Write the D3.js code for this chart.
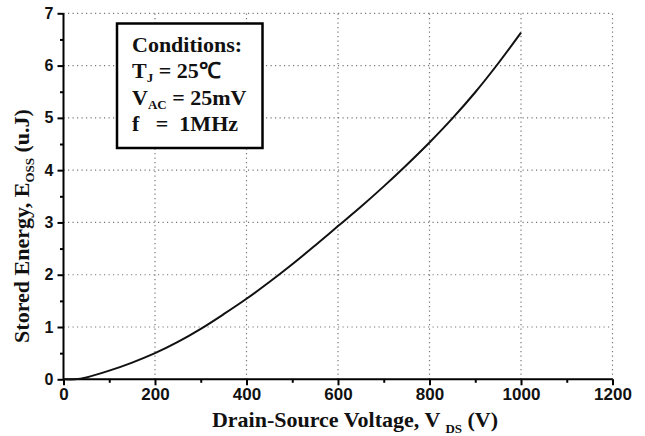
<!DOCTYPE html>
<html><head><meta charset="utf-8">
<script src="https://cdn.jsdelivr.net/npm/d3@7"></script>
<style>body{margin:0;background:#fff}svg{display:block}</style>
</head><body><svg id="c" width="645" height="436"></svg>
<script>
const voltage = [0, 25, 50, 100, 150, 200, 250, 300, 350, 400, 450, 500, 550, 600, 650, 700, 750, 800, 850, 900, 950, 1000];
const energy  = [0, 0, 0.035, 0.165, 0.32, 0.50, 0.715, 0.965, 1.245, 1.54, 1.86, 2.20, 2.56, 2.93, 3.30, 3.69, 4.10, 4.53, 4.99, 5.49, 6.04, 6.63];
const xTicks = [0, 200, 400, 600, 800, 1000, 1200];
const yTicks = [0, 1, 2, 3, 4, 5, 6, 7];
const conditions = ["Conditions:", "T|J| = 25℃", "V|AC| = 25mV", "f   =  1MHz"];

const svg = d3.select("#c");
const L = 63.5, R = 612.5, T = 13.3, B = 379.3;
const x = d3.scaleLinear().domain([0, 1200]).range([L, R]);
const y = d3.scaleLinear().domain([0, 7]).range([B, T]);

// grid
const g = svg.append("g").attr("stroke", "#777").attr("stroke-width", 1.2).attr("stroke-dasharray", "1.2,3.3");
xTicks.filter(d => d > 0).forEach(d => g.append("line").attr("x1", x(d)).attr("x2", x(d)).attr("y1", B).attr("y2", T));
yTicks.filter(d => d > 0).forEach(d => g.append("line").attr("x1", L).attr("x2", R).attr("y1", y(d)).attr("y2", y(d)));

// axes
const xAxis = d3.axisBottom(x).tickValues(xTicks).tickSize(6).tickPadding(3).tickFormat(d3.format("d"));
const xMinor = d3.axisBottom(x).tickValues(d3.range(100, 1200, 200)).tickSize(3.5).tickFormat("");
const yAxis = d3.axisLeft(y).tickValues(yTicks).tickSize(6).tickPadding(4).tickFormat(d3.format("d"));
const yMinor = d3.axisLeft(y).tickValues(d3.range(0.5, 7, 1)).tickSize(3.5).tickFormat("");

function style(sel, fs) {
  sel.select(".domain").attr("stroke", "#000").attr("stroke-width", 2);
  sel.selectAll(".tick line").attr("stroke", "#000").attr("stroke-width", 2);
  sel.selectAll(".tick text").attr("fill", "#111").attr("font-family", "Liberation Sans, Arial, sans-serif")
     .attr("font-weight", "bold").attr("font-size", fs);
}
const gx = svg.append("g").attr("transform", `translate(0,${B})`).call(xAxis);
gx.select(".domain").attr("d", `M${L},0H${R}`);
style(gx, 17);
const gxm = svg.append("g").attr("transform", `translate(0,${B})`).call(xMinor);
gxm.select(".domain").remove(); style(gxm, 17);
const gy = svg.append("g").attr("transform", `translate(${L},0)`).call(yAxis);
gy.select(".domain").attr("d", `M0,${B}V${T}`);
style(gy, 16);
const gym = svg.append("g").attr("transform", `translate(${L},0)`).call(yMinor);
gym.select(".domain").remove(); style(gym, 16);

// curve
const pts = voltage.map((v, i) => [v, energy[i]]);
svg.append("path").datum(pts)
  .attr("fill", "none").attr("stroke", "#111").attr("stroke-width", 2)
  .attr("d", d3.line().x(d => x(d[0])).y(d => y(Math.max(0, d[1]))).curve(d3.curveCatmullRom.alpha(0.5)));

// axis titles
const serif = "Liberation Serif, Times New Roman, serif";
const xt = svg.append("text").attr("x", 355).attr("y", 427).attr("text-anchor", "middle")
  .attr("font-family", serif).attr("font-weight", "bold").attr("font-size", 22).attr("fill", "#111");
xt.append("tspan").text("Drain-Source Voltage, V ");
xt.append("tspan").attr("font-size", 13).attr("dy", 6).text("DS");
xt.append("tspan").attr("dy", -6).text(" (V)");

const yt = svg.append("text").attr("transform", "translate(29,226) rotate(-90)").attr("text-anchor", "middle")
  .attr("font-family", serif).attr("font-weight", "bold").attr("font-size", 22).attr("fill", "#111");
yt.append("tspan").text("Stored Energy, E");
yt.append("tspan").attr("font-size", 13).attr("dy", 5).text("OSS");
yt.append("tspan").attr("dy", -5).text(" (u.J)");

// conditions box
svg.append("rect").attr("x", 117).attr("y", 23.5).attr("width", 145.5).attr("height", 124.5)
  .attr("fill", "#fff").attr("stroke", "#000").attr("stroke-width", 2.5);
conditions.forEach((s, i) => {
  const t = svg.append("text").attr("x", 132).attr("y", 52 + i * 26.3)
    .attr("font-family", serif).attr("font-weight", "bold").attr("font-size", 22).attr("fill", "#111")
    .attr("xml:space", "preserve").style("white-space", "pre");
  const parts = s.split("|");
  t.append("tspan").text(parts[0]);
  if (parts.length > 1) {
    t.append("tspan").attr("font-size", 13).attr("dy", 4).text(parts[1]);
    t.append("tspan").attr("dy", -4).text(parts[2]);
  }
});
</script></body></html>
